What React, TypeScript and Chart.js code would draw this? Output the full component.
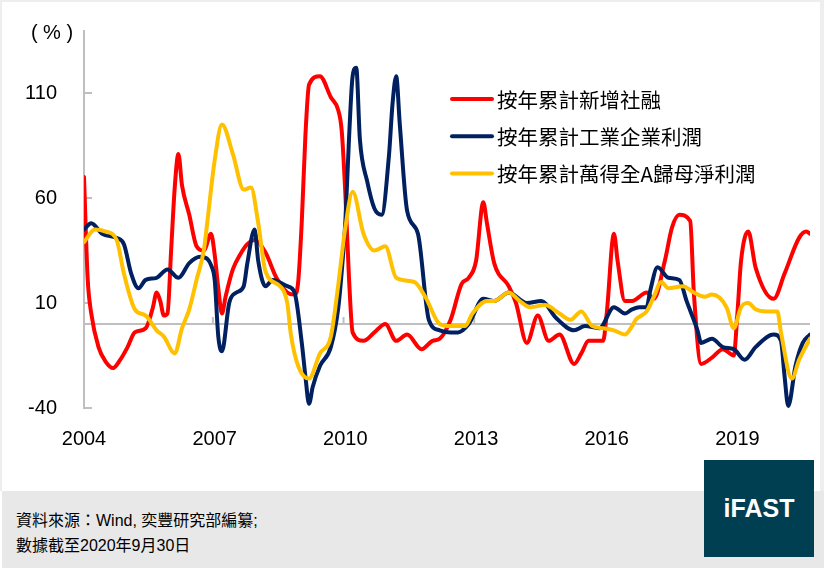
import React, { useEffect, useRef } from "react";
import { Chart, registerables } from "chart.js";

Chart.register(...registerables);

// ---- labels ----
const seriesNames = ["按年累計新增社融", "按年累計工業企業利潤", "按年累計萬得全A歸母淨利潤"];
const seriesColors = ["#FF0000", "#002060", "#FFC000"];

// month index: 0 = Jan 2004
const xTickMonths = [0, 36, 72, 108, 144, 180];
const xTickLabels = ["2004", "2007", "2010", "2013", "2016", "2019"];
const yTickValues = [-40, 10, 60, 110];
const yTickLabels = ["-40", "10", "60", "110"];
const yAxisTitle = "( % )";

const sourceLine = "資料來源：Wind, 奕豐研究部編纂;";
const dateLine = "數據截至2020年9月30日";
const brandText = "iFAST";

// ---- series: social financing ----
const socialMonths = [
  0, 1, 2, 4, 6, 8, 10, 12, 14, 17, 19, 20, 21, 22, 23, 24, 25, 26, 27, 29, 31, 33, 35, 36, 37, 38, 39, 41, 43, 45,
  47, 50, 53, 56, 58, 59, 60, 61, 62, 65, 68, 70, 71, 72, 73, 74, 77, 80, 83, 86, 89, 93, 96, 98, 101, 104, 106, 108,
  110, 111, 113, 117, 119, 122, 125, 128, 131, 135, 137, 139, 143, 144, 146, 147, 149, 151, 155, 157, 160, 162, 164,
  167, 168, 170, 173, 176, 179, 180, 181, 183, 185, 190, 193, 197, 199, 200,
];
const socialValues = [
  70, 22, 5, -11, -18, -21, -17, -11, -4, -2, 8, 15, 11, 4, 5, 35, 65, 81, 66, 52, 37, 35, 43, 33, 17, 5, 13, 26, 33, 38,
  40, 34, 22, 15, 14, 20, 49, 90, 114, 118, 108, 102, 92, 62, 22, -4, -8, -4, 0, -8, -5, -12, -8, -7, 2, 19, 22, 30,
  58, 48, 29, 18, 10, -9, 4, -8, -5, -19, -14, -8, -8, 5, 43, 30, 11, 11, 15, 12, 30, 46, 52,
  49, 15, -19, -16, -12, -15, 5, 30, 44, 27, 12, 24, 41, 44, 43,
];

// ---- series: industrial profits ----
const industryMonths = [
  0, 2, 5, 9, 11, 13, 15, 17, 20, 23, 26, 29, 32, 34, 35, 36, 37, 38, 40, 42, 44, 45, 47, 48, 50, 52, 56, 58, 60, 61,
  62, 63, 65, 68, 70, 71, 72, 73, 74, 75, 76, 78, 80, 82, 84, 85, 86, 87, 89, 92, 95, 98, 101, 103, 106, 110, 113,
  117, 122, 126, 130, 135, 138, 142, 146, 149, 151, 153, 155, 156, 158, 161, 164, 166, 169, 170, 173, 176, 179, 182,
  185, 190, 192, 193, 194, 196, 198, 200,
];
const industryValues = [
  45, 48, 43, 41, 38, 24, 17, 21, 22, 26, 22, 29, 32, 31, 28, 21, -6, -13, 10, 15, 18, 29, 45, 30, 18, 21, 18, 15, -9,
  -25, -38, -30, -20, -11, 7, 25, 49, 88, 118, 122, 88, 68, 55, 52, 80, 105, 118, 95, 54, 43, 2, -3, -4, -4, 0, 12, 11,
  15, 10, 11, 3, -3, -1, -2, 8, 5, 7, 8, 8, 16, 27, 22, 21, 11, -3, -9, -7, -11, -12, -17,
  -11, -5, -8, -25, -39, -20, -9, -5,
];

// ---- series: Wind All-A net profit ----
const equityMonths = [
  0, 3, 6, 9, 11, 14, 17, 20, 22, 25, 27, 29, 31, 33, 34, 36, 38, 41, 44, 46, 48, 50, 54, 56, 57, 59, 62, 65, 68, 70,
  72, 74, 77, 80, 83, 86, 91, 94, 98, 101, 105, 107, 111, 113, 117, 120, 123, 127, 131, 134, 137, 140, 143, 146, 149,
  151, 152, 155, 157, 159, 161, 165, 168, 171, 173, 177, 179, 181, 183, 185, 188, 191, 192, 195, 197, 200,
];
const equityValues = [
  39, 45, 44, 40, 24, 7, 4, -3, -6, -14, -2, 7, 21, 35, 49, 78, 95, 81, 64, 65, 48, 25, 18, 10, -5, -20, -26, -14, -6,
  18, 46, 63, 43, 35, 37, 22, 20, 13, 0, -1, -1, 5, 11, 11, 15, 11, 8, 9, 5, 2, 6, -1, -2, -3, -5,
  -1, 2, 6, 13, 20, 17, 18, 15, 13, 14, 8, -2, 8, 10, 7, 6, 6, -4, -26, -17, -7,
];

const toPoints = (months: number[], values: number[]) => months.map((m, i) => ({ x: m, y: values[i] }));

const FONT = "'Liberation Sans', Arial, 'Noto Sans CJK TC', sans-serif";
const CJK_FONT = "'Noto Sans CJK TC', 'Liberation Sans', sans-serif";
const AXIS_GRAY = "#BFBFBF";

const decorPlugin = {
  id: "decor",
  beforeDatasetsDraw(chart: any) {
    const { ctx, chartArea, scales } = chart;
    const xs = scales.x;
    const ys = scales.y;
    const y0 = ys.getPixelForValue(0);
    ctx.save();
    ctx.strokeStyle = AXIS_GRAY;
    ctx.lineWidth = 2;
    ctx.beginPath();
    ctx.moveTo(chartArea.left, chartArea.top);
    ctx.lineTo(chartArea.left, chartArea.bottom + 1);
    ctx.stroke();
    yTickValues.forEach((v) => {
      const py = ys.getPixelForValue(v);
      ctx.beginPath();
      ctx.moveTo(chartArea.left, py);
      ctx.lineTo(chartArea.left + 8, py);
      ctx.stroke();
    });
    ctx.beginPath();
    ctx.moveTo(chartArea.left, y0);
    ctx.lineTo(chartArea.right, y0);
    ctx.stroke();
    xTickMonths.slice(1).forEach((m) => {
      const px = xs.getPixelForValue(m - 0.5);
      ctx.beginPath();
      ctx.moveTo(px, y0);
      ctx.lineTo(px, y0 - 7);
      ctx.stroke();
    });
    ctx.restore();
  },
  afterDraw(chart: any) {
    const { ctx } = chart;
    ctx.save();
    ctx.fillStyle = "#000";
    ctx.font = `20px ${FONT}`;
    ctx.textAlign = "center";
    ctx.textBaseline = "middle";
    ctx.fillText(yAxisTitle, 52, 33);
    const lx = 450;
    const ly = 99;
    const dy = 37.3;
    chart.data.datasets.forEach((ds: any, i: number) => {
      const y = ly + dy * i;
      ctx.strokeStyle = ds.borderColor;
      ctx.lineWidth = 4;
      ctx.lineCap = "round";
      ctx.beginPath();
      ctx.moveTo(lx + 2, y);
      ctx.lineTo(lx + 42, y);
      ctx.stroke();
      ctx.fillStyle = "#000";
      ctx.font = `20.5px ${CJK_FONT}`;
      ctx.textAlign = "left";
      ctx.textBaseline = "middle";
      ctx.fillText(ds.label, lx + 47, y + 1);
    });
    ctx.restore();
  },
};

export default function App() {
  const canvasRef = useRef<HTMLCanvasElement>(null);

  useEffect(() => {
    document.body.style.margin = "0";
    const canvas = canvasRef.current;
    if (!canvas) return;
    const seriesData = [
      toPoints(socialMonths, socialValues),
      toPoints(industryMonths, industryValues),
      toPoints(equityMonths, equityValues),
    ];
    const chart = new Chart(canvas, {
      type: "line",
      data: {
        datasets: seriesData.map((d, i) => ({
          label: seriesNames[i],
          data: d,
          borderColor: seriesColors[i],
          backgroundColor: seriesColors[i],
          borderWidth: 4,
          pointRadius: 0,
          fill: false,
          cubicInterpolationMode: "monotone",
          borderCapStyle: "round",
          borderJoinStyle: "round",
          order: 2 - i,
        })),
      },
      options: {
        responsive: false,
        animation: false,
        devicePixelRatio: 1,
        layout: { padding: { top: 30, right: 10, left: 0, bottom: 0 } },
        plugins: { legend: { display: false }, tooltip: { enabled: false } },
        scales: {
          x: {
            type: "linear",
            min: 0,
            max: 200,
            grid: { display: false, drawTicks: false },
            border: { display: false },
            afterBuildTicks: (s: any) => {
              s.ticks = xTickMonths.map((v) => ({ value: v }));
            },
            afterFit: (s: any) => {
              s.height = 82;
              s.paddingLeft = 0;
              s.paddingRight = 0;
            },
            ticks: {
              padding: 19,
              color: "#000",
              font: { size: 20, family: FONT },
              maxRotation: 0,
              autoSkip: false,
              callback: (_v: any, idx: number) => xTickLabels[idx],
            },
          },
          y: {
            min: -40,
            max: 140,
            grid: { display: false, drawTicks: false },
            border: { display: false },
            afterBuildTicks: (s: any) => {
              s.ticks = yTickValues.map((v) => ({ value: v }));
            },
            afterFit: (s: any) => {
              s.width = 84;
              s.paddingTop = 0;
              s.paddingBottom = 0;
            },
            ticks: {
              padding: 27,
              color: "#000",
              font: { size: 20, family: FONT },
              callback: (_v: any, idx: number) => yTickLabels[idx],
            },
          },
        },
      },
      plugins: [decorPlugin],
    } as any);
    return () => chart.destroy();
  }, []);

  return (
    <div style={{ position: "relative", width: 824, height: 577, background: "#fff", overflow: "hidden" }}>
      <div
        style={{
          position: "absolute",
          left: 0,
          top: 0,
          width: 818,
          height: 489,
          borderTop: "2px solid #eeeeee",
          borderLeft: "2px solid #eeeeee",
          borderRight: "4px solid #eeeeee",
          boxSizing: "content-box",
        }}
      />
      <div
        style={{
          position: "absolute",
          left: 2,
          top: 491,
          width: 822,
          height: 77,
          background: "#E8E8E8",
        }}
      />
      <canvas ref={canvasRef} width={820} height={490} style={{ position: "absolute", left: 0, top: 0 }} />
      <div
        style={{
          position: "absolute",
          left: 16,
          top: 508,
          fontFamily: FONT,
          fontSize: 16,
          lineHeight: "25px",
          color: "#000",
          whiteSpace: "nowrap",
        }}
      >
        <div>{sourceLine}</div>
        <div>{dateLine}</div>
      </div>
      <div
        style={{
          position: "absolute",
          left: 704,
          top: 460,
          width: 110,
          height: 97,
          background: "#003F52",
          color: "#fff",
          fontFamily: FONT,
          fontWeight: "bold",
          fontSize: 25,
          display: "flex",
          alignItems: "center",
          justifyContent: "center",
        }}
      >
        {brandText}
      </div>
    </div>
  );
}
